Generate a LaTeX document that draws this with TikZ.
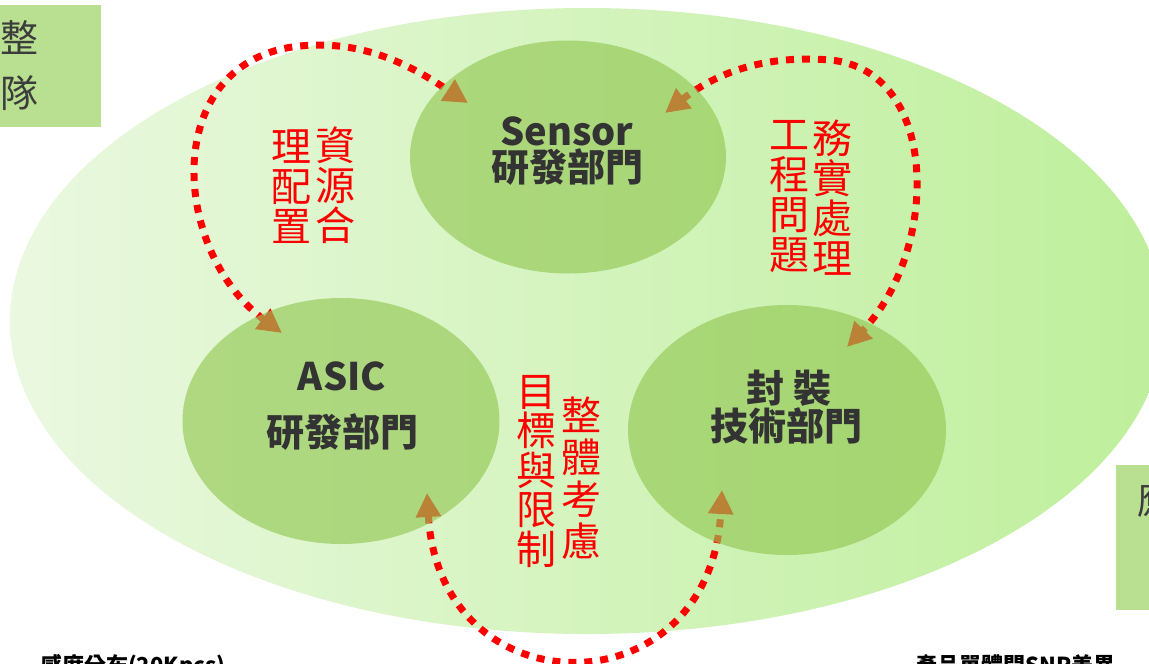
\documentclass[tikz,border=0pt]{standalone}
\usepackage{fontspec}
\newfontfamily\cjk{Noto Sans CJK TC}
\usetikzlibrary{arrows.meta,shapes.geometric}
\definecolor{bigL}{RGB}{234,248,224}
\definecolor{bigR}{RGB}{190,239,155}
\definecolor{boxg}{RGB}{184,224,144}
\definecolor{circg}{RGB}{148,200,85}
\definecolor{txt}{RGB}{51,51,51}
\definecolor{boxtxt}{RGB}{60,60,60}
\definecolor{red1}{RGB}{255,0,0}
\begin{document}
\begin{tikzpicture}[x=1pt,y=-1pt,
  circnode/.style={ellipse, fill=circg, fill opacity=0.65, draw=none, inner sep=0pt},
  link/.style={draw=red1, line width=7pt, dash pattern=on 8pt off 8pt,
    {Triangle[length=24pt,width=24pt]}-{Triangle[length=24pt,width=24pt]}},
  dept/.style={font=\cjk\bfseries\fontsize{38}{44}\selectfont, text=txt, inner sep=0pt, align=center},
  redcol/.style={font=\cjk\fontsize{40}{40}\selectfont, text=red1, inner sep=0pt, align=center, anchor=north},
  boxchar/.style={font=\cjk\fontsize{38}{44}\selectfont, text=boxtxt, inner sep=0pt},
  foot/.style={font=\cjk\bfseries\fontsize{22}{26}\selectfont, text=black, inner sep=0pt, anchor=north west}
]
\useasboundingbox (0,0) rectangle (1149,664);
\clip (0,0) rectangle (1149,664);
\fill[white] (0,0) rectangle (1149,664);

% large background ellipse
\shade[left color=bigL, right color=bigR] (587,321) ellipse [x radius=577pt, y radius=313pt];

% side boxes
\fill[boxg] (0,5) rectangle (101,127);
\node[boxchar] (b1) at (20,38) {整};
\node[boxchar] (b2) at (20,93) {隊};
\fill[boxg] (1116,465) rectangle (1160,610);
\node[boxchar, anchor=west] (b3) at (1137,500) {應};

% arrow end points
\coordinate (aA) at (282,333);
\coordinate (top1) at (300,46);
\coordinate (aS) at (468,103);
\coordinate (bS) at (665,113);
\coordinate (top2) at (830,60);
\coordinate (bP) at (847,347);
\coordinate (cA) at (427,493);
\coordinate (cP) at (722,490);

% dotted double arrows
\draw[link] (aA) .. controls (170,250) and (160,60) .. (top1) .. controls (370,39) and (420,72) .. (aS);
\draw[link] (bS) .. controls (720,70) and (770,55) .. (top2) .. controls (940,70) and (940,250) .. (bP);
\draw[link] (cA) .. controls (440,712) and (710,712) .. (cP);

% department circles (translucent, over the arrows)
\node[circnode, minimum width=316pt, minimum height=233pt] (sensor) at (568,157) {};
\node[circnode, minimum width=317pt, minimum height=246pt] (asic) at (341,421) {};
\node[circnode, minimum width=318pt, minimum height=250pt] (pack) at (787,430) {};

% department labels
\node[dept] (sensorT) at (567,131) {Sensor};
\node[dept] (sensorD) at (567,167) {研發部門};
\node[dept] (asicT) at (342,376) {ASIC};
\node[dept] (asicD) at (342,432) {研發部門};
\node[dept] (packT) at (789,388) {封 裝};
\node[dept] (packD) at (786,426) {技術部門};

% red vertical texts
\node[redcol] (r1a) at (335,127) {資\\源\\合};
\node[redcol] (r1b) at (291,130) {理\\配\\置};
\node[redcol] (r2a) at (832,120) {務\\實\\處\\理};
\node[redcol] (r2b) at (789,120) {工\\程\\問\\題};
\node[redcol, font=\cjk\fontsize{40}{42}\selectfont] (r3a) at (581,397) {整\\體\\考\\慮};
\node[redcol, font=\cjk\fontsize{40}{39.5}\selectfont] (r3b) at (536,375) {目\\標\\與\\限\\制};

% cut-off footer texts (cut by the picture edge, as in the reference)
\node[foot] (f1) at (40,654) {感度分布(20Kpcs)};
\node[foot] (f2) at (915,654) {產品單體間SNR差異};
\end{tikzpicture}
\end{document}
